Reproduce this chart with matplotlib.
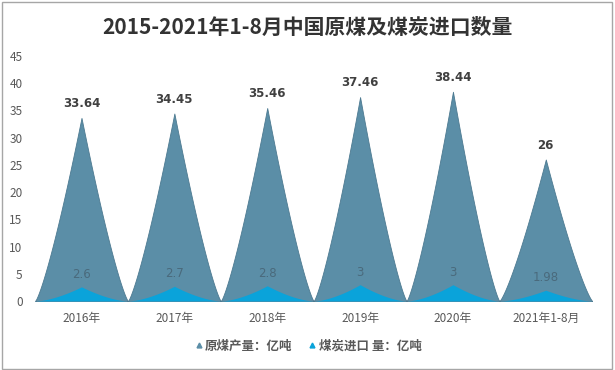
import numpy as np
import matplotlib.pyplot as plt
from matplotlib.patches import Rectangle
from matplotlib.lines import Line2D

plt.rcParams['font.family'] = ['Noto Sans CJK SC', 'DejaVu Sans']

# Data
categories = ['2016年', '2017年', '2018年', '2019年', '2020年', '2021年1-8月']
production = [33.64, 34.45, 35.46, 37.46, 38.44, 26]
imports = [2.6, 2.7, 2.8, 3, 3, 1.98]
prod_labels = ['33.64', '34.45', '35.46', '37.46', '38.44', '26']
import_labels = ['2.6', '2.7', '2.8', '3', '3', '1.98']

BIG_COLOR = '#5b8ea7'
BIG_EDGE = '#4d7a91'
SMALL_COLOR = '#0aa3da'
TEXT = '#595959'


def peak(center, height, power=1.25, half=0.5):
    t = np.linspace(-1, 1, 201)
    x = center + t * half
    y = height * (1 - np.abs(t)) ** power
    return x, y


fig = plt.figure(figsize=(6.15, 3.7), dpi=100)
ax = fig.add_axes([0.057, 0.1865, 0.906, 0.662])

for i, (p, m) in enumerate(zip(production, imports)):
    x, y = peak(i, p)
    ax.fill_between(x, 0, y, color=BIG_COLOR, edgecolor=BIG_EDGE, linewidth=0.6, zorder=2)
    xs, ys = peak(i, m, power=1.6)
    ax.fill_between(xs, 0, ys, color=SMALL_COLOR, linewidth=0, zorder=3)
    ax.text(i, p + 2.6, prod_labels[i], ha='center', va='center',
            fontsize=8.5, fontweight='bold', color='#404040', family=['DejaVu Sans'])
    ax.text(i, m + 2.3, import_labels[i], ha='center', va='center',
            fontsize=8.5, color='#4a6a7c', family=['DejaVu Sans'], zorder=4)

ax.axhline(0, color='#a9c4d6', linewidth=1.0, zorder=1)
ax.set_xlim(-0.5, len(categories) - 0.5)
ax.set_ylim(0, 45)
ax.set_yticks(range(0, 46, 5))
ax.set_xticks(range(len(categories)))
ax.set_xticklabels(categories)
ax.tick_params(axis='both', length=0, labelsize=8.5, colors=TEXT)
ax.tick_params(axis='y', pad=9)
ax.tick_params(axis='x', pad=8)
for s in ax.spines.values():
    s.set_visible(False)

fig.text(0.5, 0.925, '2015-2021年1-8月中国原煤及煤炭进口数量', ha='center', va='center',
         fontsize=15, fontweight='bold', color='#333333')

handles = [
    Line2D([], [], linestyle='none', marker='^', markersize=3.5, color=BIG_COLOR, label='原煤产量：亿吨'),
    Line2D([], [], linestyle='none', marker='^', markersize=3.5, color=SMALL_COLOR, label='煤炭进口 量：亿吨'),
]
fig.legend(handles=handles, loc='center', bbox_to_anchor=(0.5, 0.065), ncol=2, frameon=False,
           handletextpad=0.1, columnspacing=1.2, handlelength=0.8,
           prop={'size': 9, 'weight': 'bold'}, labelcolor=TEXT)

fig.patches.append(Rectangle((0.003, 0.004), 0.992, 0.99, transform=fig.transFigure,
                             fill=False, edgecolor='#a6a6a6', linewidth=1.0))

fig.savefig('out.png', dpi=100)
